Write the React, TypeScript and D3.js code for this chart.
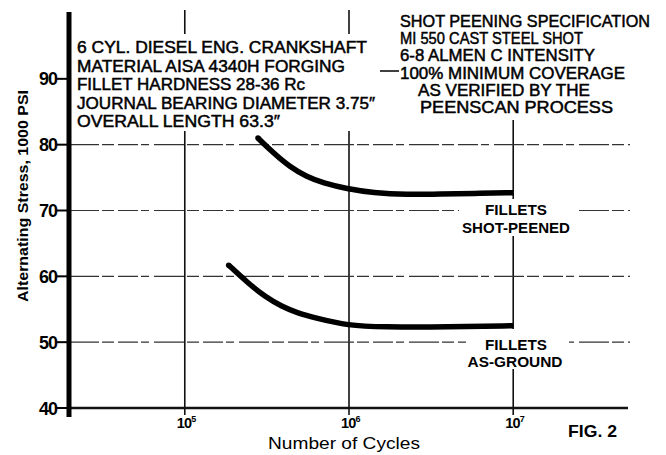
import React from 'react';
import * as d3 from 'd3';

const W = 666;
const H = 455;

// S-N curves (cycles, ksi)
const peenedCycles = [2.79e5, 3.44e5, 4.37e5, 5.55e5, 6.93e5, 9.7e5, 1.4e6, 2.26e6, 3.59e6, 5.7e6, 1e7];
const peenedStress = [81.0, 78.8, 76.6, 75.1, 74.2, 73.3, 72.7, 72.4, 72.5, 72.6, 72.7];
const groundCycles = [1.85e5, 2.42e5, 3.08e5, 3.9e5, 4.89e5, 6.2e5, 9.9e5, 1.59e6, 4.0e6, 1e7];
const groundStress = [61.7, 59.0, 56.9, 55.4, 54.4, 53.7, 52.5, 52.3, 52.3, 52.5];

const yTicks = [40, 50, 60, 70, 80, 90];
const gridStress = [50, 60, 70, 80];
const xTickExp = [5, 6, 7];

const infoLines = [
  '6 CYL. DIESEL ENG. CRANKSHAFT',
  'MATERIAL AISA 4340H FORGING',
  'FILLET HARDNESS 28-36 Rc',
  'JOURNAL BEARING DIAMETER 3.75\u2033',
  'OVERALL LENGTH 63.3\u2033',
];
const infoWidths = [290, 268, 228, 298, 203];

const specLines = [
  'SHOT PEENING SPECIFICATION',
  'MI 550 CAST STEEL SHOT',
  '6-8 ALMEN C INTENSITY',
  '100% MINIMUM COVERAGE',
  'AS VERIFIED BY THE',
  'PEENSCAN PROCESS',
];
const specX = [400, 400, 400, 400, 418, 420];
const specWidths = [250, 183, 195, 225, 172, 193];

const FONT = '"Liberation Sans", Arial, Helvetica, sans-serif';

export default function App() {
  const x = d3.scaleLog().domain([2e4, 5e7]).range([70, 628]);
  const y = d3.scaleLinear().domain([40, 100]).range([408, 13]);

  const line = d3
    .line<[number, number]>()
    .x(d => x(d[0]))
    .y(d => y(d[1]))
    .curve(d3.curveBasis);

  const peened = peenedCycles.map((c, i) => [c, peenedStress[i]] as [number, number]);
  const ground = groundCycles.map((c, i) => [c, groundStress[i]] as [number, number]);

  const axisX = 69;
  const right = x(5e7);
  const x7 = x(1e7);

  return (
    <svg
      width={W}
      height={H}
      style={{ position: 'absolute', left: 0, top: 0, background: '#fff' }}
      fontFamily={FONT}
    >
      <rect width={W} height={H} fill="#fff" />

      {/* vertical grid lines at decades */}
      {xTickExp.map(e => (
        <line
          key={e}
          x1={x(Math.pow(10, e))}
          x2={x(Math.pow(10, e))}
          y1={e === 7 ? 120 : 10}
          y2={415}
          stroke="#111"
          strokeWidth={1.6}
        />
      ))}

      {/* horizontal grid lines */}
      {gridStress.map(s => (
        <line
          key={s}
          x1={axisX}
          x2={right + 2}
          y1={y(s)}
          y2={y(s)}
          stroke="#333"
          strokeWidth={1.1}
          strokeDasharray="30 3 12 4 20 3 8 5"
        />
      ))}
      <line x1={axisX} x2={right} y1={y(40)} y2={y(40)} stroke="#111" strokeWidth={2.4} />

      {/* y ticks and labels */}
      {yTicks.map(t => (
        <g key={t}>
          <line x1={57} x2={axisX} y1={y(t)} y2={y(t)} stroke="#000" strokeWidth={2} />
          <text
            x={57}
            y={y(t) + 6.5}
            textAnchor="end"
            fontSize={18}
            fontWeight="bold"
            letterSpacing={-1}
          >
            {t}
          </text>
        </g>
      ))}

      {/* y axis */}
      <line x1={axisX} x2={axisX} y1={12} y2={417} stroke="#000" strokeWidth={5} />

      {/* x tick labels */}
      {xTickExp.map(e => (
        <text key={e} x={x(Math.pow(10, e)) - 8} y={428} fontSize={14.5} fontWeight="bold" letterSpacing={-0.8}>
          10
          <tspan fontSize={9} dy={-6}>
            {e}
          </tspan>
        </text>
      ))}

      {/* text blocks with white backing */}
      <rect x={73} y={34} width={312} height={97} fill="#fff" />
      <rect x={375} y={0} width={291} height={120} fill="#fff" />
      {infoLines.map((t, i) => (
        <text
          key={i}
          x={77}
          y={53 + i * 18.5}
          fontSize={17}
          textLength={infoWidths[i]}
          lengthAdjust="spacingAndGlyphs"
          stroke="#000"
          strokeWidth={0.5}
        >
          {t}
        </text>
      ))}
      {specLines.map((t, i) => (
        <text
          key={i}
          x={specX[i]}
          y={27 + i * 17.2}
          fontSize={17}
          textLength={specWidths[i]}
          lengthAdjust="spacingAndGlyphs"
          stroke="#000"
          strokeWidth={0.5}
        >
          {t}
        </text>
      ))}
      <line x1={380} x2={399} y1={71} y2={71} stroke="#000" strokeWidth={1.5} />

      {/* curve labels */}
      <rect x={459} y={199} width={115} height={37} fill="#fff" />
      <rect x={466} y={329} width={103} height={40} fill="#fff" />
      <g fontSize={15} fontWeight="bold" textAnchor="middle">
        <text x={516} y={215} textLength={62} lengthAdjust="spacingAndGlyphs">FILLETS</text>
        <text x={516} y={233} textLength={108} lengthAdjust="spacingAndGlyphs">SHOT-PEENED</text>
        <text x={516} y={350} textLength={62} lengthAdjust="spacingAndGlyphs">FILLETS</text>
        <text x={515} y={367} textLength={95} lengthAdjust="spacingAndGlyphs">AS-GROUND</text>
      </g>

      {/* S-N curves */}
      <path d={line(peened) ?? ''} fill="none" stroke="#000" strokeWidth={5.5} strokeLinecap="butt" />
      <path d={line(ground) ?? ''} fill="none" stroke="#000" strokeWidth={5.5} strokeLinecap="butt" />
      <circle cx={x(peenedCycles[0])} cy={y(peenedStress[0])} r={2.75} fill="#000" />
      <circle cx={x(groundCycles[0])} cy={y(groundStress[0])} r={2.75} fill="#000" />

      {/* axis titles */}
      <text
        transform={`translate(28, 196) rotate(-90)`}
        textAnchor="middle"
        fontSize={15}
        fontWeight="bold"
        textLength={212}
        lengthAdjust="spacingAndGlyphs"
      >
        Alternating Stress, 1000 PSI
      </text>
      <text x={268} y={449} fontSize={17} textLength={152} lengthAdjust="spacingAndGlyphs">
        Number of Cycles
      </text>
      <text x={568} y={437} fontSize={17} fontWeight="bold" textLength={49} lengthAdjust="spacingAndGlyphs">
        FIG. 2
      </text>
    </svg>
  );
}
